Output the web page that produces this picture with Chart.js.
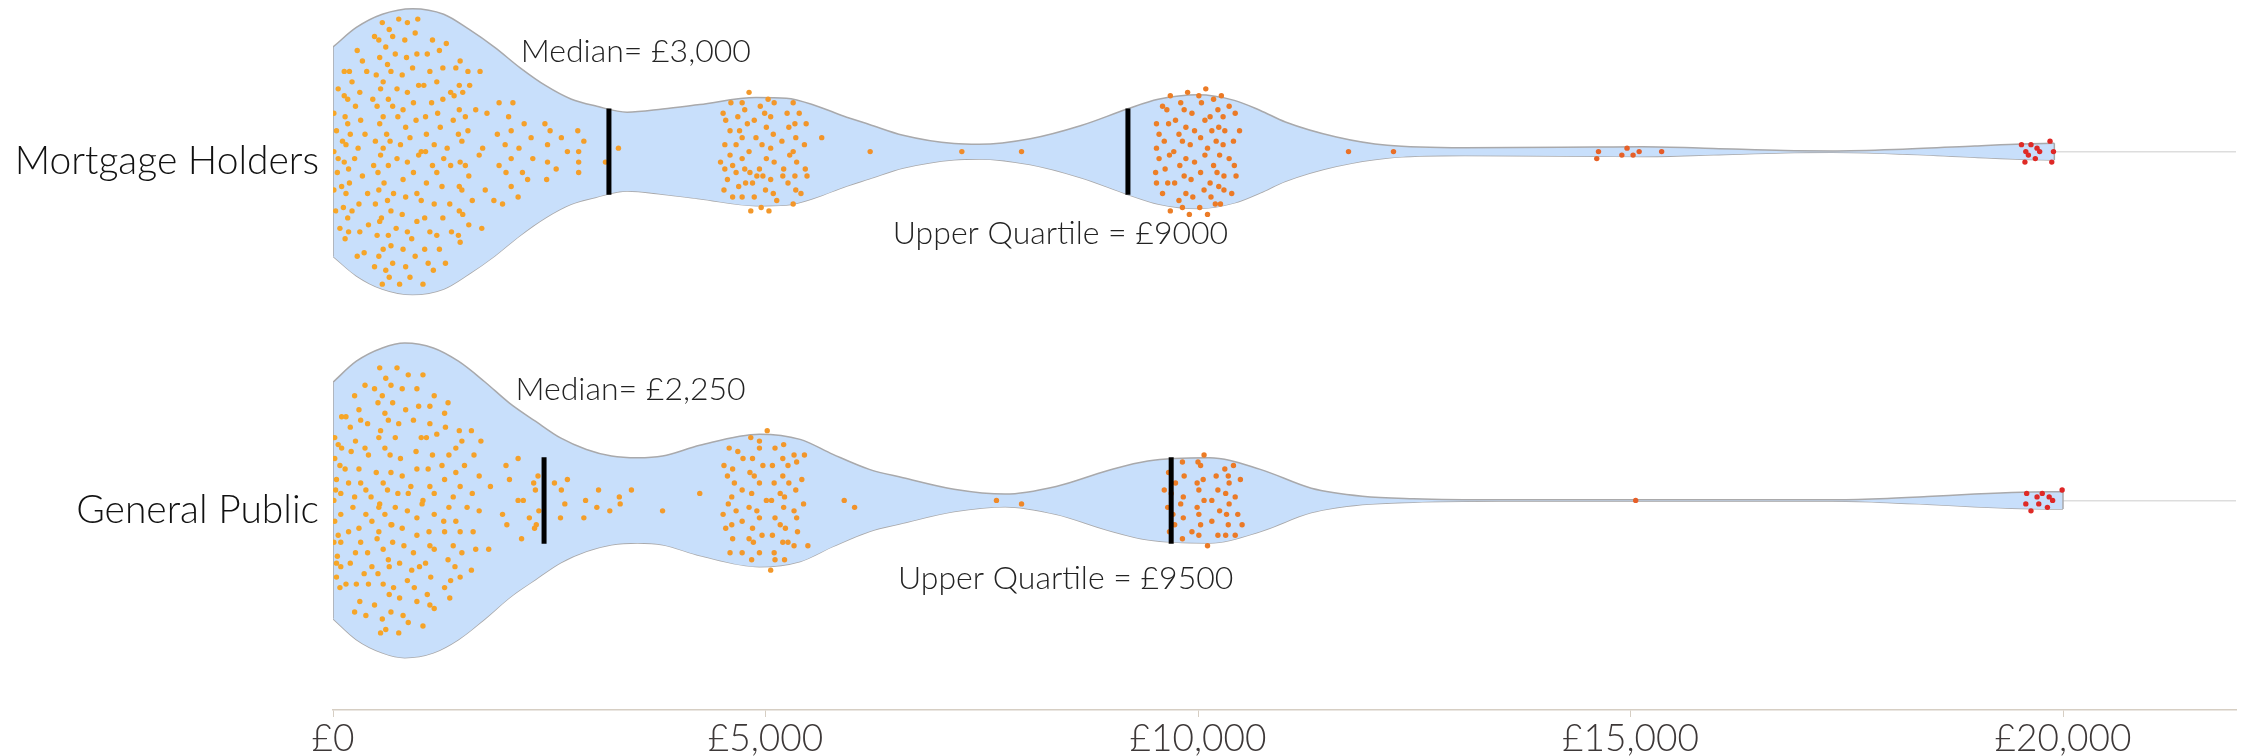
<!DOCTYPE html>
<html>
<head>
<meta charset="utf-8">
<script src="https://cdn.jsdelivr.net/npm/chart.js@4.4.0/dist/chart.umd.min.js"></script>
<style>
html,body{margin:0;padding:0;background:#ffffff;}
#wrap{width:2244px;height:756px;position:relative;}
</style>
</head>
<body>
<div id="wrap"><canvas id="c" width="2244" height="756"></canvas></div>
<script>
// ---------------- DATA ----------------
const categories = ['Mortgage Holders', 'General Public'];
const xTickValues = [0, 5000, 10000, 15000, 20000];
const xTickLabels = ['£0', '£5,000', '£10,000', '£15,000', '£20,000'];

const medians = [3190, 2440];
const upperQuartiles = [9190, 9690];
const medianLabels = ['Median= £3,000', 'Median= £2,250'];
const quartileLabels = ['Upper Quartile = £9000', 'Upper Quartile = £9500'];

// violin outline: income sample points and half-width (in category units)
const mortgageViolinX = [0, 270, 570, 920, 1280, 1570, 1870, 2160, 2460, 2750, 3050, 3400, 3810, 4240, 4890, 5240, 5590, 5900, 6200, 6590, 7180, 7470, 8060, 8650, 9180, 9540, 10000, 10420, 10720, 11010, 11600, 12190, 13080, 14590, 15140, 15960, 16780, 17330, 18150, 18980, 19520, 19900];
const mortgageViolinW = [0.300, 0.356, 0.394, 0.410, 0.394, 0.351, 0.299, 0.241, 0.189, 0.151, 0.130, 0.113, 0.122, 0.135, 0.155, 0.153, 0.131, 0.102, 0.078, 0.047, 0.023, 0.021, 0.037, 0.075, 0.122, 0.150, 0.163, 0.147, 0.118, 0.085, 0.042, 0.018, 0.011, 0.013, 0.014, 0.009, 0.003, 0.002, 0.007, 0.016, 0.022, 0.024];
const publicViolinX = [0, 270, 570, 830, 1160, 1450, 1750, 2040, 2340, 2630, 2930, 3220, 3520, 3810, 4240, 4930, 5400, 5780, 6200, 6590, 7180, 7770, 8360, 8950, 9420, 10130, 10720, 11310, 11900, 12490, 13490, 17330, 17880, 18430, 18980, 19520, 20000];
const publicViolinW = [0.339, 0.399, 0.437, 0.451, 0.437, 0.399, 0.341, 0.279, 0.227, 0.179, 0.146, 0.127, 0.122, 0.127, 0.158, 0.190, 0.175, 0.132, 0.089, 0.065, 0.032, 0.018, 0.040, 0.085, 0.113, 0.122, 0.089, 0.035, 0.012, 0.005, 0.002, 0.002, 0.005, 0.011, 0.018, 0.023, 0.025];

// individual respondents: [income £, vertical jitter]
const mortgageDots = [
[760,.38],[980,.38],[570,.37],[860,.37],[650,.35],[480,.33],[690,.33],[530,.32],[830,.32],[950,.34],
[1150,.32],[1310,.31],[280,.29],[610,.30],[720,.28],[970,.28],[1090,.28],[1230,.29],[540,.27],[850,.27],
[1470,.26],[340,.26],[630,.25],[130,.23],[190,.23],[390,.23],[500,.22],[670,.23],[800,.22],[920,.24],
[1120,.23],[1270,.24],[1420,.24],[1560,.23],[1700,.23],[580,.20],[220,.20],[990,.19],[1050,.19],[1200,.20],
[1460,.19],[1580,.19],[60,.18],[310,.17],[550,.18],[740,.18],[860,.17],[1360,.17],[1500,.17],[130,.16],
[170,.15],[460,.15],[640,.15],[930,.14],[1140,.14],[1270,.15],[1400,.16],[260,.13],[510,.13],[690,.13],
[810,.12],[1210,.11],[1460,.12],[1650,.12],[1780,.11],[1920,.14],[2080,.14],[10,.11],[140,.10],[170,.08],
[320,.09],[580,.10],[750,.10],[960,.09],[1070,.10],[1390,.09],[1530,.10],[2030,.10],[40,.06],[200,.05],
[370,.05],[540,.08],[620,.05],[840,.07],[1080,.05],[1240,.07],[1450,.05],[1560,.06],[1900,.05],[2060,.06],
[2210,.08],[2450,.08],[2510,.06],[2830,.06],[2900,.03],[110,.03],[150,.02],[290,.01],[490,.03],[660,.03],
[580,.01],[780,.02],[890,.04],[1020,0],[1170,.02],[1320,.01],[1490,.03],[1690,-.01],[1730,.01],[1990,.02],
[2150,.01],[2290,.04],[2480,.02],[2640,.04],[2710,0],[2840,0],[3300,.01],[10,0],[60,-.02],[250,-.02],
[550,-.01],[740,-.02],[860,-.03],[990,-.01],[1070,0],[1280,-.02],[1470,-.03],[2060,-.02],[2310,-.02],[2480,-.03],
[2840,-.03],[3150,-.03],[130,-.03],[470,-.04],[180,-.05],[50,-.06],[520,-.06],[640,-.04],[930,-.06],[1150,-.04],
[1200,-.06],[1360,-.04],[1530,-.04],[1570,-.07],[1920,-.04],[2000,-.06],[2190,-.06],[2250,-.08],[2470,-.08],[2580,-.05],
[2840,-.06],[190,-.09],[100,-.10],[340,-.07],[590,-.09],[810,-.08],[1080,-.09],[1260,-.10],[1460,-.10],[1490,-.11],
[1760,-.11],[2060,-.10],[10,-.11],[150,-.12],[400,-.12],[530,-.11],[700,-.12],[840,-.13],[970,-.12],[1020,-.14],
[1170,-.15],[1350,-.15],[1610,-.14],[1860,-.14],[1960,-.15],[2140,-.13],[30,-.17],[120,-.16],[220,-.17],[300,-.15],
[490,-.15],[630,-.14],[670,-.17],[800,-.18],[970,-.20],[1060,-.19],[1270,-.19],[1460,-.17],[1500,-.18],[170,-.19],
[410,-.21],[540,-.20],[560,-.19],[730,-.22],[860,-.23],[1120,-.23],[1200,-.24],[1370,-.23],[1570,-.21],[1720,-.22],
[80,-.22],[180,-.23],[310,-.23],[510,-.24],[640,-.24],[910,-.25],[1450,-.24],[1470,-.26],[140,-.25],[360,-.29],
[530,-.30],[580,-.28],[670,-.27],[810,-.28],[1060,-.28],[1230,-.28],[280,-.30],[690,-.32],[950,-.30],[1300,-.32],
[480,-.33],[610,-.34],[840,-.33],[1100,-.32],[1160,-.34],[650,-.36],[890,-.36],[570,-.38],[770,-.38],[1040,-.38],
[4810,.17],[5030,.15],[4600,.14],[4730,.14],[4760,.12],[4940,.13],[5100,.14],[5320,.14],[4510,.11],[4540,.09],
[4680,.10],[4990,.11],[5060,.10],[5250,.11],[5390,.11],[4790,.08],[4870,.09],[4590,.06],[4700,.06],[4730,.04],
[5010,.07],[5090,.05],[5270,.07],[5340,.08],[5470,.08],[4890,.04],[5350,.04],[5190,.03],[5650,.04],[4530,.02],
[4660,.02],[4960,.02],[5060,.01],[5450,.02],[4810,0],[4590,-.01],[5280,-.01],[5320,0],[4480,-.03],[4730,-.02],
[5010,-.02],[5100,-.03],[5360,-.03],[4530,-.05],[4760,-.05],[4930,-.05],[5210,-.05],[5460,-.05],[4620,-.04],[4660,-.06],
[4820,-.06],[4900,-.07],[4970,-.07],[5200,-.07],[5340,-.07],[5480,-.07],[4560,-.08],[4770,-.09],[4850,-.09],[5060,-.08],
[5260,-.09],[4520,-.11],[4690,-.10],[5000,-.11],[5090,-.12],[5350,-.11],[5410,-.12],[4620,-.13],[4730,-.13],[4870,-.13],
[5130,-.14],[5320,-.15],[4950,-.16],[5040,-.17],[4830,-.17],[6210,0],[7270,0],[7960,0],
[9680,.16],[9880,.17],[10010,.16],[10090,.18],[10270,.16],[9590,.13],[9640,.12],[9800,.14],[9840,.12],[9930,.11],
[10040,.14],[10180,.15],[10360,.13],[10230,.12],[10290,.10],[10430,.11],[9520,.08],[9660,.08],[9740,.09],[9860,.07],
[9960,.06],[10080,.09],[10140,.10],[10240,.07],[10310,.06],[10480,.06],[9550,.05],[9610,.03],[9780,.05],[10030,.04],
[10160,.06],[10210,.03],[10410,.03],[9520,.01],[9670,-.01],[9720,0],[9820,.03],[9910,.02],[10110,.01],[10290,.02],
[9550,-.02],[9860,-.02],[9960,-.03],[10080,-.01],[10250,-.01],[10360,-.02],[10420,-.04],[9620,-.05],[9790,-.04],[10180,-.04],
[9510,-.06],[9840,-.07],[10030,-.06],[10220,-.06],[10300,-.07],[10440,-.07],[9520,-.09],[9650,-.09],[9730,-.09],[9920,-.08],
[10140,-.09],[9590,-.12],[9860,-.12],[10070,-.11],[10240,-.10],[10300,-.11],[10390,-.12],[9780,-.14],[9940,-.13],[10150,-.13],
[10200,-.15],[10260,-.15],[10020,-.16],[9820,-.16],[9680,-.17],[9900,-.18],[10110,-.18],
[11740,0],[12260,0],
[14630,0],[14610,-.02],[14960,.01],[15100,0],[14900,-.01],[15030,-.01],[15360,0],
[19520,.02],[19630,.02],[19700,.01],[19850,.03],[19570,0],[19730,0],[19890,0],[19600,-.01],[19560,-.03],[19680,-.02],[19870,-.03]
];

const publicDots = [
[540,.38],[740,.38],[870,.36],[1040,.36],[610,.35],[670,.33],[370,.33],[480,.32],[800,.32],[970,.32],
[250,.30],[570,.30],[1170,.30],[1330,.28],[520,.28],[690,.28],[300,.26],[600,.25],[840,.26],[990,.27],
[1120,.27],[1290,.25],[100,.24],[150,.24],[320,.23],[400,.22],[640,.23],[930,.23],[1120,.22],[200,.21],
[550,.20],[760,.22],[1300,.21],[1460,.20],[1600,.20],[20,.18],[530,.18],[720,.18],[1020,.18],[1080,.18],
[1200,.19],[1490,.17],[1710,.17],[60,.16],[100,.15],[260,.17],[370,.15],[210,.14],[410,.13],[600,.15],
[660,.13],[780,.12],[960,.14],[1150,.13],[1340,.13],[1420,.15],[1630,.13],[20,.12],[80,.10],[140,.09],
[300,.09],[500,.08],[670,.08],[800,.07],[970,.09],[1100,.09],[1260,.10],[1520,.10],[1420,.08],[2000,.10],
[2140,.12],[40,.06],[180,.05],[320,.05],[380,.03],[580,.05],[630,.03],[900,.04],[1120,.04],[1290,.06],
[1470,.04],[1690,.07],[1820,.04],[2040,.06],[2560,.05],[2710,.06],[2320,.05],[2370,.07],[30,.03],[90,.02],
[250,.01],[440,.01],[540,-.01],[750,.02],[870,.02],[1040,0],[1170,.02],[1390,.01],[1610,.02],[2340,.03],
[2640,.03],[3070,.03],[3310,.01],[3450,.03],[10,0],[2140,0],[2200,0],[2680,-.01],[2920,0],[3320,-.01],
[4240,.02],[530,-.02],[720,-.02],[1030,-.01],[1340,-.02],[1550,-.02],[1690,-.03],[90,-.04],[230,-.02],[380,-.04],
[450,-.06],[600,-.04],[670,-.07],[860,-.03],[970,-.05],[1170,-.04],[1280,-.06],[1420,-.06],[1960,-.04],[2270,-.05],
[2380,-.03],[2630,-.05],[2900,-.05],[3050,-.02],[3200,-.03],[3810,-.03],[20,-.06],[60,-.10],[180,-.09],[300,-.08],
[530,-.09],[680,-.07],[800,-.08],[970,-.10],[1110,-.09],[1290,-.09],[1470,-.09],[1620,-.09],[2010,-.07],[2330,-.08],
[2350,-.07],[2180,-.11],[10,-.12],[90,-.12],[320,-.12],[510,-.11],[690,-.12],[820,-.13],[930,-.15],[1120,-.13],
[1170,-.14],[1390,-.13],[1490,-.15],[1650,-.14],[1800,-.14],[260,-.15],[400,-.15],[580,-.14],[50,-.16],[200,-.18],
[450,-.19],[640,-.17],[770,-.18],[910,-.20],[1070,-.18],[1330,-.17],[1410,-.19],[1600,-.20],[40,-.18],[90,-.19],
[360,-.21],[520,-.21],[650,-.19],[1000,-.19],[1130,-.22],[1360,-.23],[1470,-.22],[40,-.22],[150,-.24],[270,-.24],
[410,-.24],[580,-.24],[700,-.25],[860,-.23],[940,-.25],[1090,-.27],[1290,-.25],[80,-.25],[310,-.29],[480,-.30],
[650,-.27],[770,-.28],[970,-.29],[1120,-.30],[1170,-.31],[1350,-.28],[250,-.32],[380,-.33],[570,-.34],[670,-.32],
[810,-.33],[870,-.35],[1040,-.36],[550,-.38],[760,-.38],[610,-.37],
[5020,.20],[4830,.18],[4930,.17],[5210,.16],[4580,.15],[4680,.14],[4930,.15],[5110,.15],[5330,.13],[5450,.13],
[4740,.12],[4850,.12],[5200,.12],[5360,.11],[4520,.10],[4620,.09],[4970,.10],[5080,.10],[5260,.10],[4820,.08],
[4870,.07],[4560,.07],[5200,.07],[5420,.06],[4640,.05],[4930,.05],[5100,.05],[5270,.05],[4730,.03],[4840,.02],
[5170,.02],[5350,.03],[4610,.01],[5220,.01],[4570,-.01],[4810,-.02],[5010,0],[5070,0],[5440,-.01],[4510,-.04],
[4660,-.03],[4900,-.03],[5210,-.02],[5330,-.03],[4930,-.05],[5110,-.05],[5360,-.05],[4730,-.06],[4540,-.08],[4610,-.07],
[4850,-.08],[5170,-.07],[5230,-.08],[5370,-.09],[4620,-.11],[4810,-.11],[4860,-.12],[4960,-.10],[5080,-.10],[5200,-.12],
[5260,-.12],[5330,-.13],[5490,-.13],[4590,-.15],[4730,-.15],[4930,-.15],[5100,-.15],[4840,-.17],[5110,-.17],[5220,-.17],
[5060,-.20],[5910,0],[6030,-.02],[7670,0],[7960,-.01],
[10070,.13],[9820,.11],[10000,.11],[10030,.10],[10310,.09],[10410,.10],[9660,.08],[9840,.07],[10350,.07],[10060,.06],
[10210,.07],[10490,.06],[9740,.05],[9990,.05],[10360,.05],[9610,.03],[10010,.03],[10230,.03],[9830,.01],[10320,.02],
[10430,.01],[9690,.02],[10160,0],[10070,0],[9800,-.01],[9650,-.02],[9990,-.02],[10360,-.01],[10250,-.03],[10010,-.04],
[9710,-.04],[9830,-.05],[10330,-.04],[10460,-.04],[10160,-.06],[10510,-.07],[10030,-.07],[10350,-.07],[9930,-.09],[9730,-.07],
[10230,-.10],[10430,-.10],[10320,-.10],[10010,-.10],[9820,-.11],[10110,-.13],[9670,-.09],
[15060,0],
[19580,.02],[19760,.02],[19990,.03],[19700,.01],[19840,.01],[19570,-.01],[19720,-.01],[19880,0],[19820,-.02],[19630,-.03]
];

// ---------------- BUILD ----------------
const baseOf = i => categories.length - 1 - i; // Mortgage Holders on top
const violins = [[mortgageViolinX, mortgageViolinW], [publicViolinX, publicViolinW]];
const dotSets = [mortgageDots, publicDots];
const OUTLINE = '#a9a9ab';
const FILL = '#c8dffb';
const LABEL_FONT = 'Lato';

function dotColor(v) {
  const stops = [[0,[246,166,40]],[5000,[243,152,42]],[10000,[236,124,38]],[15000,[230,96,40]],[20000,[222,38,38]]];
  if (v <= stops[0][0]) return 'rgb(' + stops[0][1].join(',') + ')';
  for (let i = 1; i < stops.length; i++) {
    if (v <= stops[i][0]) {
      const t = (v - stops[i-1][0]) / (stops[i][0] - stops[i-1][0]);
      const c = stops[i-1][1].map((a, k) => Math.round(a + (stops[i][1][k] - a) * t));
      return 'rgb(' + c.join(',') + ')';
    }
  }
  return 'rgb(' + stops[stops.length-1][1].join(',') + ')';
}

const datasets = [];
violins.forEach(([xs, ws], i) => {
  const c = baseOf(i);
  datasets.push({type:'line', data: xs.map((x, k) => ({x, y: c + ws[k]})), borderColor: OUTLINE, borderWidth: 1.5,
    backgroundColor: FILL, fill: '+1', pointRadius: 0, cubicInterpolationMode: 'monotone', order: 6});
  datasets.push({type:'line', data: xs.map((x, k) => ({x, y: c - ws[k]})), borderColor: OUTLINE, borderWidth: 1.5,
    fill: false, pointRadius: 0, cubicInterpolationMode: 'monotone', order: 6});
  [0, xs.length - 1].forEach(k => datasets.push({type:'line', data: [{x: xs[k], y: c - ws[k]}, {x: xs[k], y: c + ws[k]}],
    borderColor: OUTLINE, borderWidth: 1.5, pointRadius: 0, fill: false, order: 5}));
});
dotSets.forEach((dots, i) => {
  const c = baseOf(i);
  datasets.push({type:'scatter', data: dots.map(([v, j]) => ({x: v, y: c + j})), pointRadius: 2.7, pointHoverRadius: 2.7,
    pointBorderWidth: 0, pointBackgroundColor: ctx => dotColor(ctx.raw ? ctx.raw.x : 0), order: 3});
});
const MARK_HALF = 0.124;
categories.forEach((name, i) => {
  const c = baseOf(i);
  [medians[i], upperQuartiles[i]].forEach(v => datasets.push({type:'line', data: [{x: v, y: c - MARK_HALF}, {x: v, y: c + MARK_HALF}],
    borderColor: '#000000', borderWidth: 5, pointRadius: 0, fill: false, order: 1}));
});

// annotation text placement (income £, offset from category centre, baseline)
const notePlacement = { median: [[3500, 0.256], [3440, 0.287]], quartile: [[8410, -0.264], [8470, -0.253]] };
const notesPlugin = {
  id: 'notes',
  afterDatasetsDraw(chart) {
    const {ctx, scales: {x, y}} = chart;
    ctx.save();
    ctx.font = '300 32px ' + LABEL_FONT;
    ctx.fillStyle = '#232323';
    ctx.textAlign = 'center';
    ctx.textBaseline = 'alphabetic';
    categories.forEach((name, i) => {
      const c = baseOf(i);
      const m = notePlacement.median[i], q = notePlacement.quartile[i];
      ctx.fillText(medianLabels[i], x.getPixelForValue(m[0]), y.getPixelForValue(c + m[1]));
      ctx.fillText(quartileLabels[i], x.getPixelForValue(q[0]), y.getPixelForValue(c + q[1]));
    });
    ctx.restore();
  }
};

new Chart(document.getElementById('c'), {
  type: 'scatter',
  data: { datasets },
  options: {
    responsive: false, animation: false, devicePixelRatio: 1,
    layout: { padding: { top: 0, right: 8, bottom: 0, left: 0 } },
    plugins: { legend: { display: false }, tooltip: { enabled: false } },
    scales: {
      x: {
        type: 'linear', min: 0, max: 22000, position: 'bottom',
        afterBuildTicks: s => { s.ticks = xTickValues.map(v => ({ value: v })); },
        afterFit: s => { s.height = 46; s.paddingLeft = 0; s.paddingRight = 0; },
        ticks: {
          callback: v => { const k = xTickValues.indexOf(v); return k >= 0 ? xTickLabels[k] : ''; },
          font: { family: LABEL_FONT, size: 37, weight: '300' }, color: '#3d3838', padding: 0, maxRotation: 0, autoSkip: false
        },
        grid: { drawOnChartArea: false, drawTicks: true, tickLength: 7, color: '#d6cec3', lineWidth: 1 },
        border: { display: true, color: '#d6cec3', width: 1.5 }
      },
      y: {
        type: 'linear', min: -0.601, max: 1.427,
        afterBuildTicks: s => { s.ticks = categories.map((n, i) => ({ value: baseOf(i) })).sort((a, b) => a.value - b.value); },
        afterFit: s => { s.width = 333; s.paddingTop = 0; s.paddingBottom = 0; },
        ticks: {
          callback: v => categories[categories.length - 1 - v],
          font: { family: LABEL_FONT, size: 39, weight: '300' }, color: '#111111', padding: 14, labelOffset: 10, autoSkip: false
        },
        grid: { drawTicks: false, color: '#dddddd', lineWidth: 1.5 },
        border: { display: false }
      }
    }
  },
  plugins: [notesPlugin]
});
</script>
</body>
</html>
